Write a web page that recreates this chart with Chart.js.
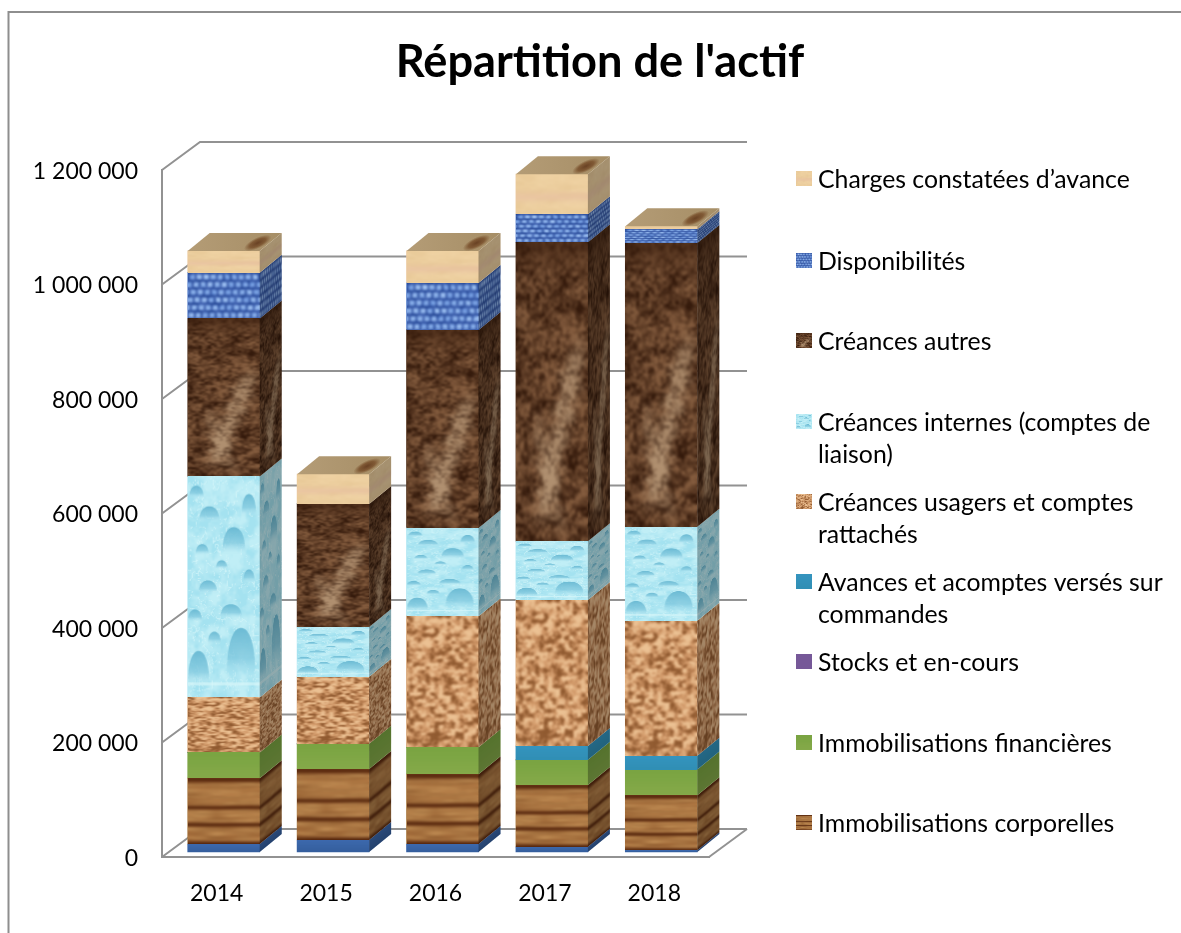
<!DOCTYPE html>
<html lang="fr">
<head>
<meta charset="utf-8">
<title>Répartition de l'actif</title>
<style>html,body{margin:0;padding:0;background:#fff}canvas{display:block}</style>
<script src="https://cdn.jsdelivr.net/npm/chart.js@4"></script>
</head>
<body>
<div style="width:1181px;height:933px"><canvas id="c" width="1181" height="933"></canvas></div>
<script>
const titleText = "Répartition de l'actif";
const categories = ['2014', '2015', '2016', '2017', '2018'];
const yTicks = { min: 0, max: 1200000, step: 200000 };
const incorporelles = [14000, 21000, 14000, 9000, 3000];
const corporelles = [115000, 124000, 122000, 108000, 96000];
const financieres = [45000, 44000, 47000, 44000, 45000];
const stocks = [0, 0, 0, 0, 0];
const avances = [0, 0, 0, 24000, 24000];
const usagers = [96000, 117000, 229000, 255000, 236000];
const internes = [386000, 87000, 154000, 103000, 164000];
const autres = [276000, 215000, 346000, 522000, 496000];
const disponibilites = [80000, 0, 82000, 49000, 24000];
const charges = [38000, 52000, 56000, 70000, 5000];
const labelCharges = 'Charges constatées d’avance';
const labelDispo = 'Disponibilités';
const labelAutres = 'Créances autres';
const labelInternes = 'Créances internes (comptes de liaison)';
const labelUsagers = 'Créances usagers et comptes rattachés';
const labelAvances = 'Avances et acomptes versés sur commandes';
const labelStocks = 'Stocks et en-cours';
const labelFin = 'Immobilisations financières';
const labelCorp = 'Immobilisations corporelles';
const labelIncorp = 'Immobilisations incorporelles';

/* ---------- procedural textures (deterministic) ---------- */
const fract = v => v - Math.floor(v);
const hash = (x, y) => fract(Math.sin(x * 127.1 + y * 311.7) * 43758.5453);
const sm = t => t * t * (3 - 2 * t);
function noise(x, y) {
  const xi = Math.floor(x), yi = Math.floor(y), u = sm(x - xi), v = sm(y - yi);
  const a = hash(xi, yi), b = hash(xi + 1, yi), c = hash(xi, yi + 1), d = hash(xi + 1, yi + 1);
  return (a + (b - a) * u) * (1 - v) + (c + (d - c) * u) * v;
}
const fbm = (x, y) => (noise(x, y) * 4 + noise(x * 2.1 + 9, y * 2.1 + 4) * 2 + noise(x * 4.3 + 3, y * 4.3 + 7)) / 7;
const mix = (a, b, t) => { t = Math.max(0, Math.min(1, t)); return [a[0] + (b[0] - a[0]) * t, a[1] + (b[1] - a[1]) * t, a[2] + (b[2] - a[2]) * t]; };
const ss = (a, b, x) => sm(Math.max(0, Math.min(1, (x - a) / (b - a))));
function tex(w, h, fn) {
  const cv = document.createElement('canvas'); cv.width = w; cv.height = h;
  const g = cv.getContext('2d'), im = g.createImageData(w, h);
  for (let y = 0; y < h; y++) for (let x = 0; x < w; x++) {
    const c = fn(x, y, x / w, y / h), i = (y * w + x) * 4;
    im.data[i] = c[0]; im.data[i + 1] = c[1]; im.data[i + 2] = c[2]; im.data[i + 3] = 255;
  }
  g.putImageData(im, 0, 0);
  return cv;
}
function soften(cv, r) {
  const out = document.createElement('canvas'); out.width = cv.width; out.height = cv.height;
  const g = out.getContext('2d');
  g.drawImage(cv, 0, 0);
  g.filter = 'blur(' + r + 'px)';
  g.drawImage(cv, 0, 0);
  return out;
}
function band(t, c, w) { return Math.exp(-Math.pow((t - c) / w, 2)); }
const woodTex = soften(tex(72, 70, (x, y, u, v) => {
  const s = fbm(x / 30, y / 2.2), r = noise(x / 14, y / 1.6);
  const b = band(v, 0.02, .04) + band(v, .44, .032) + band(v, .70, .032) + band(v, .985, .035);
  let c = mix([146, 96, 50], [194, 146, 88], s * 1.5 - .2);
  c = mix(c, [176, 100, 50], r * .25);
  return mix(c, [82, 34, 10], Math.min(1, b) * .95);
}), 1);
const corkTex = soften(tex(72, 150, (x, y) => {
  const s = fbm(x / 4.2, y / 4.2);
  return s < .48 ? mix([144, 90, 48], [208, 150, 102], (s - .3) / .18) : mix([208, 150, 102], [236, 194, 148], (s - .48) / .2);
}), .8);
const marbleTex = soften(tex(72, 260, (x, y, u, v) => {
  const s = fbm(x / 11, y / 11), t = fbm(x / 3 + 40, y / 3);
  let c = mix([50, 24, 10], [132, 92, 62], (s * .45 + t * .55 - .3) / .38);
  const w = (fbm(x / 7 + 5, y / 7 + 11) - .5) * .22;
  const d1 = (u - .76) * 1.1 + (v - .46) * 1.0 + w;
  const d2 = (u - .36) - (v - .70) * .8 + w;
  const vein = Math.exp(-d1 * d1 / .02) * ss(.28, .42, v) * (1 - ss(.82, .98, v)) + .7 * Math.exp(-d2 * d2 / .012) * ss(.52, .66, v) * (1 - ss(.88, 1, v));
  c = mix(c, [176, 144, 112], vein * (.2 + t * 1.0));
  return mix(c, [56, 28, 12], (1 - ss(0, .14, v)) * .55);
}), .9);
function waterTex() {
  const cv = tex(72, 220, (x, y) => {
    const s = fbm(x / 9, y / 11), ridge = Math.abs(fbm(x / 7 + 3, y / 9 + 8) - .5);
    return mix(mix([164, 226, 240], [192, 238, 246], (s - .3) / .4), [222, 250, 252], (1 - ss(0, .03, ridge)) * .6);
  });
  const g = cv.getContext('2d');
  const drops = [[.64, .29, .16, .06], [.3, .17, .14, .035], [.85, .13, .1, .05], [.28, .5, .13, .03], [.6, .61, .15, .032],
    [.74, .80, .2, .115], [.15, .87, .15, .08], [.37, .73, .09, .028], [.1, .63, .1, .028], [.12, .07, .1, .028], [.85, .45, .08, .03], [.47, .4, .08, .02], [.2, .33, .09, .024]];
  g.filter = 'blur(.7px)';
  for (const d of drops) {
    const x = d[0] * 72, y = d[1] * 220, rx = d[2] * 72, ry = d[3] * 220;
    const lg = g.createLinearGradient(0, y - ry, 0, y + ry);
    lg.addColorStop(0, 'rgba(104,184,210,.95)'); lg.addColorStop(.6, 'rgba(128,200,222,.75)'); lg.addColorStop(1, 'rgba(190,236,246,.1)');
    g.fillStyle = lg; g.beginPath();
    g.moveTo(x - rx, y + ry); g.bezierCurveTo(x - rx, y - ry * .7, x - rx * .4, y - ry, x, y - ry);
    g.bezierCurveTo(x + rx * .4, y - ry, x + rx, y - ry * .7, x + rx, y + ry); g.closePath(); g.fill();
  }
  g.fillStyle = 'rgba(220,248,250,.6)'; g.fillRect(0, 205, 72, 3);
  g.filter = 'none';
  return soften(cv, .5);
}
const denimTex = soften(tex(72, 48, (x, y) => {
  const row = Math.floor(y / 8), cx = Math.floor((x + row * 3) / 7), fx = ((x + row * 3) % 7) / 7, fy = (y % 8) / 8;
  const n = noise(x / 2.5, y / 2.5), m = noise(cx * 1.7, row * 2.3);
  const light = fy > .2 && fy < .85 && fx > .25 && fx < .95;
  return light ? mix([92, 136, 214], [178, 210, 250], n * .5 + m * .5) : mix([36, 70, 148], [70, 104, 182], n);
}), .8);
const chargesTex = soften(tex(72, 40, (x, y, u, v) => {
  const s = fbm(x / 12, y / 4);
  const c = mix([230, 198, 148], [242, 214, 168], s);
  return mix(c, [232, 192, 162], band(v, .55, .12) * .6);
}), .8);
const flatTex = (c1, c2) => tex(8, 8, (x, y, u, v) => mix(c1, c2, v));
const blueTex = flatTex([60, 104, 172], [52, 94, 156]);
const greenTex = flatTex([122, 164, 66], [134, 170, 74]);
const tealTex = flatTex([52, 148, 190], [48, 142, 180]);
const purpleTex = flatTex([118, 88, 152], [118, 88, 152]);
const waterCanvas = waterTex();

function ds(label, data, color, texture) {
  return { label, data, backgroundColor: color, borderWidth: 0, stack: 'actif', clip: false, texture };
}
const datasets = [
  ds(labelIncorp, incorporelles, '#3c68ac', blueTex),
  ds(labelCorp, corporelles, '#a87840', woodTex),
  ds(labelFin, financieres, '#80a648', greenTex),
  ds(labelStocks, stocks, '#76589a', purpleTex),
  ds(labelAvances, avances, '#3494bc', tealTex),
  ds(labelUsagers, usagers, '#d4a070', corkTex),
  ds(labelInternes, internes, '#b0e6f2', waterCanvas),
  ds(labelAutres, autres, '#553520', marbleTex),
  ds(labelDispo, disponibilites, '#5c84cc', denimTex),
  ds(labelCharges, charges, '#eccba0', chargesTex)
];

/* ---------- 3D geometry of the drawing ---------- */
const wall = { dx: 38, dy: 28 };
const bar3d = { dx: 22, dy: 18, shiftX: 7, shiftY: -5 };
const gridColor = '#929292';

const frame = {
  id: 'frame',
  beforeDraw(chart) {
    const c = chart.ctx; c.save();
    c.strokeStyle = '#8e8e8e'; c.lineWidth = 2;
    c.beginPath(); c.moveTo(8.5, 933); c.lineTo(8.5, 12); c.lineTo(1181, 12); c.stroke();
    c.restore();
  }
};
const backWall = {
  id: 'backWall',
  beforeDatasetsDraw(chart) {
    const c = chart.ctx, y = chart.scales.y, a = chart.chartArea;
    c.save(); c.strokeStyle = gridColor; c.lineWidth = 2;
    y.ticks.forEach(t => {
      const p = y.getPixelForValue(t.value);
      c.beginPath(); c.moveTo(a.left, p); c.lineTo(a.left + wall.dx, p - wall.dy); c.lineTo(a.right + wall.dx, p - wall.dy); c.stroke();
    });
    const b = y.getPixelForValue(0);
    c.beginPath(); c.moveTo(a.right, b); c.lineTo(a.right + wall.dx, b - wall.dy); c.stroke();
    c.restore();
    c.save(); c.translate(bar3d.shiftX, bar3d.shiftY);
  },
  afterDatasetsDraw(chart) {
    const c = chart.ctx;
    const tops = {};
    chart.data.datasets.forEach((d, i) => {
      chart.getDatasetMeta(i).data.forEach((el, j) => {
        const x0 = el.x - el.width / 2, x1 = el.x + el.width / 2, yt = Math.min(el.y, el.base), yb = Math.max(el.y, el.base), h = yb - yt;
        if (!tops[j] || yt < tops[j].y) tops[j] = { x0, x1, y: yt };
        if (h < .5) return;
        c.drawImage(d.texture, x0, yt, x1 - x0, h);
        c.save();
        c.transform(1, -bar3d.dy / bar3d.dx, 0, 1, x1, yt);
        c.drawImage(d.texture, 0, 0, bar3d.dx, h);
        c.fillStyle = 'rgba(0,0,0,.3)'; c.fillRect(0, 0, bar3d.dx, h);
        c.restore();
      });
    });
    Object.values(tops).forEach(t => {
      c.save();
      c.beginPath(); c.moveTo(t.x0, t.y); c.lineTo(t.x1, t.y); c.lineTo(t.x1 + bar3d.dx, t.y - bar3d.dy); c.lineTo(t.x0 + bar3d.dx, t.y - bar3d.dy); c.closePath();
      const g = c.createLinearGradient(t.x0, 0, t.x1 + bar3d.dx, 0);
      g.addColorStop(0, '#b49c76'); g.addColorStop(1, '#a68e66');
      c.fillStyle = g; c.fill(); c.clip();
      c.translate(t.x1 - 2, t.y - 8); c.rotate(-.45); c.scale(1, .36);
      const r = c.createRadialGradient(0, 0, 1, 0, 0, 15);
      r.addColorStop(0, 'rgba(104,64,34,.95)'); r.addColorStop(.55, 'rgba(118,76,40,.8)'); r.addColorStop(1, 'rgba(118,76,40,0)');
      c.fillStyle = r; c.beginPath(); c.arc(0, 0, 15, 0, 7); c.fill();
      c.restore();
    });
    c.restore();
  }
};

/* ---------- legend: reversed dataset order, wrapped as in the reference ---------- */
const legendRows = [
  { label: labelCharges, lines: [labelCharges], y: 179 },
  { label: labelDispo, lines: [labelDispo], y: 261 },
  { label: labelAutres, lines: [labelAutres], y: 341 },
  { label: labelInternes, lines: ['Créances internes (comptes de', 'liaison)'], y: 422 },
  { label: labelUsagers, lines: ['Créances usagers et comptes', 'rattachés'], y: 502 },
  { label: labelAvances, lines: ['Avances et acomptes versés sur', 'commandes'], y: 582 },
  { label: labelStocks, lines: [labelStocks], y: 662 },
  { label: labelFin, lines: [labelFin], y: 743 },
  { label: labelCorp, lines: [labelCorp], y: 823 }
];
const sideLegend = {
  id: 'sideLegend',
  afterDraw(chart) {
    const c = chart.ctx; c.save();
    c.font = '24.8px Lato'; c.fillStyle = '#000'; c.textBaseline = 'middle';
    legendRows.forEach(r => {
      const d = chart.data.datasets.find(s => s.label === r.label);
      c.drawImage(d.texture, 796, r.y - 8, 16, 15);
      r.lines.forEach((t, i) => c.fillText(t, 818, r.y + 1 + i * 32));
    });
    c.restore();
  }
};

new Chart(document.getElementById('c'), {
  type: 'bar',
  data: { labels: categories, datasets },
  plugins: [frame, backWall, sideLegend],
  options: {
    responsive: false,
    animation: false,
    layout: { padding: { left: 19, right: 0, top: 0, bottom: 0 } },
    barThickness: 72,
    plugins: {
      legend: { display: false },
      tooltip: { enabled: false },
      title: {
        display: true, text: titleText, color: '#000',
        font: { family: 'Lato', size: 45.2, weight: 'bold' },
        padding: { top: 35.5, bottom: 80.3 }
      }
    },
    scales: {
      x: {
        stacked: true,
        grid: { display: false, drawTicks: false },
        border: { display: true, color: gridColor, width: 2 },
        ticks: { color: '#000', font: { family: 'Lato', size: 23 }, padding: 23, maxRotation: 0 },
        afterFit(s) { s.height = 76; }
      },
      y: {
        stacked: true, min: yTicks.min, max: yTicks.max,
        grid: { display: false, drawTicks: false },
        border: { display: true, color: gridColor, width: 2 },
        ticks: {
          stepSize: yTicks.step, color: '#000', font: { family: 'Lato', size: 23 }, padding: 24, labelOffset: 1.5,
          callback: v => String(v).replace(/\B(?=(\d{3})+$)/g, '\u00a0')
        },
        afterFit(s) { s.width = 143; }
      },
      legendSpace: {
        axis: 'y', type: 'linear', position: 'right', display: true,
        grid: { display: false, drawTicks: false }, border: { display: false }, ticks: { display: false },
        afterFit(s) { s.width = 472; }
      }
    }
  }
});
</script>
</body>
</html>
